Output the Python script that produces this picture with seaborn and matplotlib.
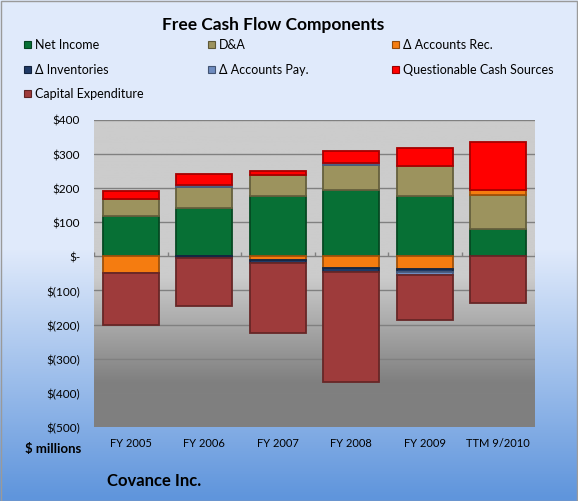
import numpy as np
import pandas as pd
import matplotlib
matplotlib.use("Agg")
import matplotlib.pyplot as plt
import seaborn as sns
from matplotlib.patches import Rectangle
from matplotlib.colors import to_rgb
from matplotlib.ticker import FuncFormatter

# ---------------- data ----------------
categories = ["FY 2005", "FY 2006", "FY 2007", "FY 2008", "FY 2009", "TTM 9/2010"]
net_income = [117, 141, 175, 195, 175, 80]
d_and_a = [51, 60, 63, 71, 90, 100]
accounts_rec = [-48, 0, -12, -34, -39, 15]
inventories = [0, -5, -8, -13, -8, 0]
accounts_pay = [0, 6, 0, 8, -9, 0]
questionable = [22, 33, 12, 33, 51, 138]
capex = [-154, -141, -206, -321, -131, -136]

series_names = ["Net Income", "D&A", "Δ Accounts Rec.", "Δ Inventories",
                "Δ Accounts Pay.", "Questionable Cash Sources", "Capital Expenditure"]
series_values = [net_income, d_and_a, accounts_rec, inventories,
                 accounts_pay, questionable, capex]
series_colors = ["#077035", "#9C935E", "#F57C10", "#1F3A66",
                 "#6E8CC0", "#FF0000", "#9E3B3B"]
y_ticks = [400, 300, 200, 100, 0, -100, -200, -300, -400, -500]

# ---------------- style ----------------
sns.set_theme(style="white")
plt.rcParams['font.family'] = ['Lato', 'DejaVu Sans']

W, H = 578, 502
fig = plt.figure(figsize=(W / 100, H / 100), dpi=100)

def darker(c, f=0.6):
    r = np.array(to_rgb(c)) * f
    return tuple(r)

# figure background gradient
bg = fig.add_axes([0, 0, 1, 1], zorder=-10)
ys = np.arange(H)
c_top = np.array(to_rgb('#e0eafb'))
c_bot = np.array(to_rgb('#5f95dc'))
t = np.clip((ys - 250) / (498 - 250), 0, 1)
img = c_top[None, :] * (1 - t[:, None]) + c_bot[None, :] * t[:, None]
bg.imshow(img[:, None, :], aspect='auto', extent=[0, 1, 0, 1], origin='upper')
bg.set_xlim(0, 1); bg.set_ylim(0, 1)
bg.axis('off')
fig.patches.append(Rectangle((0.5 / W, 0.5 / H), 1 - 2 / W, 1 - 2 / H,
                             transform=fig.transFigure, fill=False,
                             edgecolor='#9a9a9a', lw=1))

# main axes
x0, x1, ytop, ybot = 94, 535, 120.5, 428
ax = fig.add_axes([x0 / W, (H - ybot) / H, (x1 - x0) / W, (ybot - ytop) / H])

# plot area gradient
yy = np.linspace(400, -500, 400)
g = np.interp(yy, [-500, -370, -60, 400], [0.50, 0.50, 0.80, 0.80])
gimg = np.repeat(g[:, None], 3, axis=1)[:, None, :]
ax.imshow(gimg, extent=[-0.5, 5.5, -500, 400], aspect='auto', origin='upper', zorder=0)

# stacked bars
pos_base = np.zeros(len(categories))
neg_base = np.zeros(len(categories))
for name, vals, color in zip(series_names, series_values, series_colors):
    v = np.array(vals, dtype=float)
    bottoms = np.where(v >= 0, pos_base, neg_base)
    df = pd.DataFrame({"period": categories, "value": v})
    n_before = len(ax.patches)
    sns.barplot(data=df, x="period", y="value", bottom=bottoms, color=color,
                saturation=1, width=0.76, edgecolor=darker(color, 0.65),
                linewidth=1.3, errorbar=None, ax=ax, zorder=2)
    for p in ax.patches[n_before:]:
        if abs(p.get_height()) < 1e-9:
            p.set_visible(False)
    pos_base += np.clip(v, 0, None)
    neg_base += np.clip(v, None, 0)

ax.set_xlim(-0.5, 5.5)
ax.set_ylim(-500, 400)
ax.set_yticks(y_ticks)
ax.yaxis.set_major_formatter(FuncFormatter(
    lambda v, p: "$-" if v == 0 else (f"${int(v)}" if v > 0 else f"$({int(-v)})")))
ax.grid(axis='y', color='#808080', lw=1)
ax.grid(axis='x', visible=False)
ax.set_axisbelow(True)
for s in ax.spines.values():
    s.set_visible(False)
ax.tick_params(axis='y', length=0, pad=10, labelsize=8.5, labelcolor='black')
ax.tick_params(axis='x', length=0, pad=7, labelsize=8, labelcolor='black')
ax.set_xlabel("")
ax.set_ylabel("")
# category boundary tick marks on the zero line
ax.vlines(np.arange(-0.5, 6.0, 1.0), 0, 12, colors='#808080', lw=1, zorder=1)

# titles and texts
fig.text(273 / W, 1 - 25 / H, "Free Cash Flow Components", ha='center', va='center',
         fontsize=12.5, fontweight='bold', color='black')
fig.text(81 / W, 1 - 449 / H, "$ millions", ha='right', va='center',
         fontsize=9.5, fontweight='bold', color='black')
fig.text(107 / W, 1 - 481 / H, "Covance Inc.", ha='left', va='center',
         fontsize=12, fontweight='bold', color='black')

# legend (three columns, row-major like the reference)
leg_x = [24, 208, 392]
leg_y = [45, 70, 94]
positions = [(0, 0), (1, 0), (2, 0), (0, 1), (1, 1), (2, 1), (0, 2)]
for (cx, ry), name, color in zip(positions, series_names, series_colors):
    mx, my = leg_x[cx], leg_y[ry]
    fig.patches.append(Rectangle((mx / W, 1 - (my + 3.5) / H), 7 / W, 7 / H,
                                 transform=fig.transFigure, facecolor=color,
                                 edgecolor=darker(color, 0.6), lw=0.8))
    fig.text((mx + 11) / W, 1 - my / H, name, ha='left', va='center',
             fontsize=9, color='black')

fig.savefig("out.png", dpi=100)
